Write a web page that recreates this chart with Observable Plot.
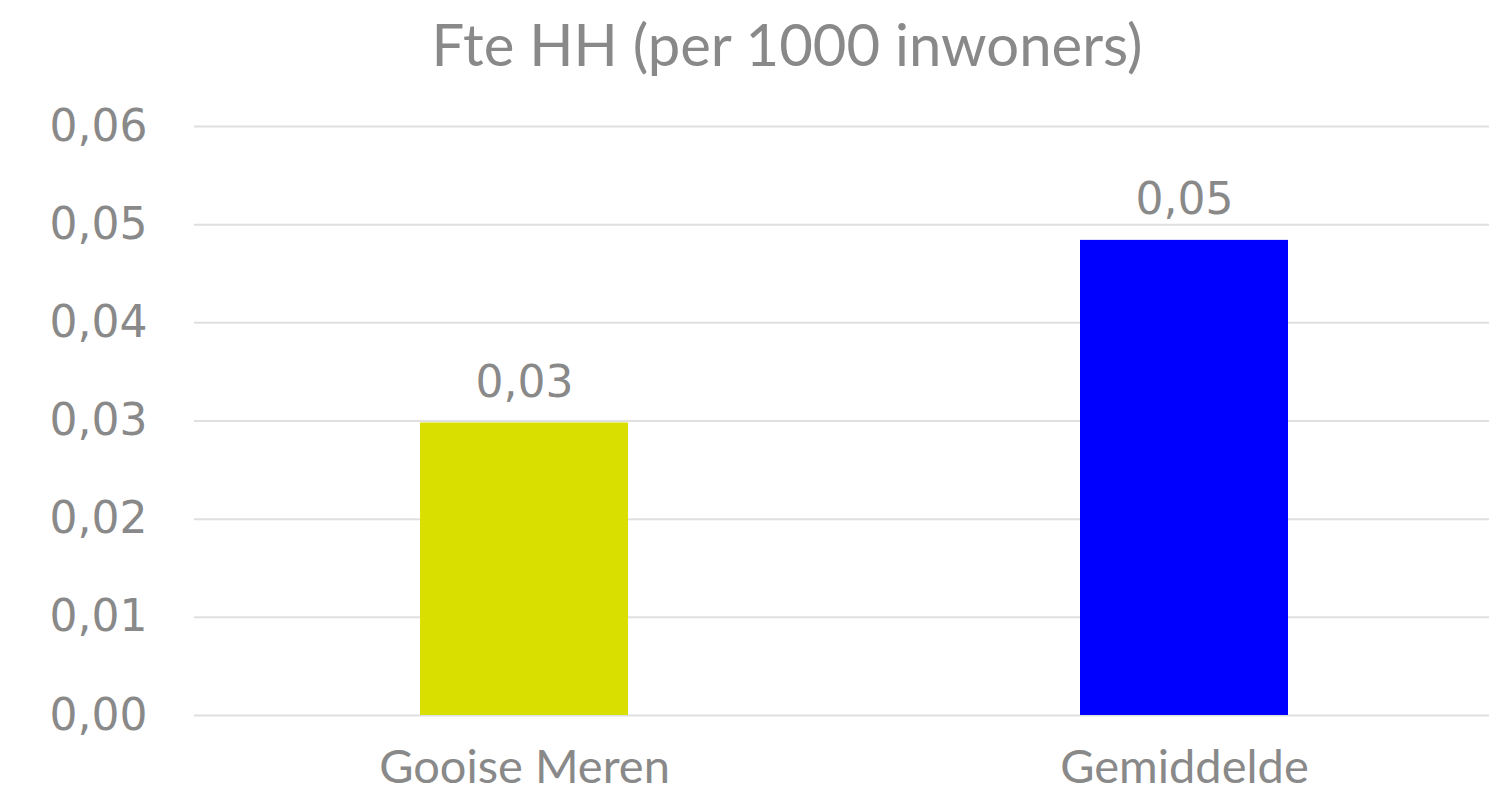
<!DOCTYPE html>
<html>
<head>
<meta charset="utf-8">
<script src="https://cdn.jsdelivr.net/npm/d3@7"></script>
<script src="https://cdn.jsdelivr.net/npm/@observablehq/plot@0.6"></script>
<style>
  html, body { margin: 0; padding: 0; background: #ffffff; }
  #wrap { position: relative; width: 1489px; height: 796px; overflow: hidden; }
  #title { position: absolute; top: 9px; left: 787px; transform: translateX(-50%); white-space: nowrap;
           font-family: Lato, sans-serif; font-size: 58px; color: #898989; line-height: 1.2; }
  #chart { position: absolute; top: 100px; left: 0; }
</style>
</head>
<body>
<div id="wrap">
  <div id="title">Fte HH (per 1000 inwoners)</div>
  <div id="chart"></div>
</div>
<script>
const categories = ["Gooise Meren", "Gemiddelde"];
const values = [0.0298, 0.0484];
const barColors = ["#d9e000", "#0000ff"];
const yTicks = [0, 0.01, 0.02, 0.03, 0.04, 0.05, 0.06];

const data = categories.map((c, i) => ({category: c, value: values[i], color: barColors[i]}));
const nl = d3.formatLocale({decimal: ",", thousands: ".", grouping: [3], currency: ["€", ""]});
const fmt = nl.format(".2f");

const textColor = "#898989";

const chart = Plot.plot({
  width: 1489,
  height: 696,
  marginTop: 26,
  marginBottom: 81,
  marginLeft: 194,
  marginRight: 0,
  style: {background: "#ffffff", overflow: "visible"},
  x: {domain: categories, range: [194, 1514], paddingInner: 0.685, paddingOuter: 0.3425, label: null, axis: null},
  y: {domain: [0, 0.06], label: null, axis: null},
  color: {type: "identity"},
  marks: [
    Plot.ruleY(yTicks, {stroke: "#e0e0e0", strokeWidth: 2}),
    Plot.barY(data, {x: "category", y: "value", fill: d => d.color}),
    Plot.text(data, {x: "category", y: "value", text: d => fmt(d.value), lineAnchor: "bottom", dy: -26,
      fill: textColor, fontSize: 44, fontFamily: "DejaVu Sans"}),
    Plot.axisY(yTicks, {tickFormat: fmt, tickSize: 0, tickPadding: 47, fill: textColor, fontSize: 44,
      fontFamily: "DejaVu Sans", label: null}),
    Plot.axisX(categories, {tickSize: 0, tickPadding: 34, fill: textColor, fontSize: 47,
      fontFamily: "Lato", label: null})
  ]
});
document.getElementById("chart").appendChild(chart);
</script>
</body>
</html>
